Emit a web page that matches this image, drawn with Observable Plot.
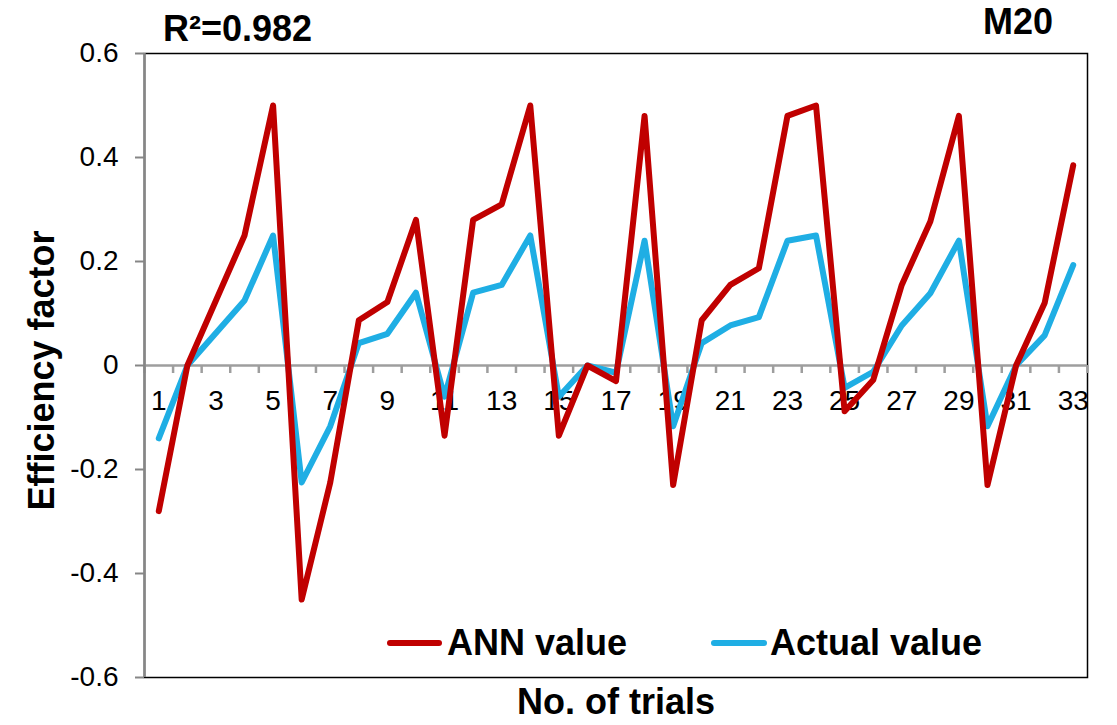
<!DOCTYPE html>
<html>
<head>
<meta charset="utf-8">
<script src="https://cdn.jsdelivr.net/npm/d3@7"></script>
<script src="https://cdn.jsdelivr.net/npm/@observablehq/plot@0.6"></script>
<style>
  body { margin: 0; background: #fff; font-family: "Liberation Sans", Arial, sans-serif; }
  #wrap { position: relative; width: 1117px; height: 725px; }
  .lbl { position: absolute; font-weight: bold; font-size: 36px; color: #000; line-height: 1; white-space: nowrap; }
  .sw { position: absolute; height: 6px; border-radius: 3px; }
</style>
</head>
<body>
<div id="wrap"></div>
<script>
// ---- data ----
const trials = [1,2,3,4,5,6,7,8,9,10,11,12,13,14,15,16,17,18,19,20,21,22,23,24,25,26,27,28,29,30,31,32,33];
const annValues = [-0.28, 0, 0.125, 0.25, 0.5, -0.45, -0.225, 0.087, 0.122, 0.28, -0.135, 0.28, 0.31, 0.5,
  -0.135, 0, -0.03, 0.48, -0.23, 0.087, 0.155, 0.187, 0.48, 0.5, -0.088, -0.028, 0.155, 0.277, 0.48,
  -0.23, 0, 0.12, 0.385];
const actualValues = [-0.14, 0, 0.0625, 0.125, 0.25, -0.225, -0.117, 0.043, 0.061, 0.14, -0.06, 0.14, 0.155, 0.25,
  -0.06, 0, -0.014, 0.24, -0.117, 0.043, 0.077, 0.093, 0.24, 0.25, -0.043, -0.012, 0.077, 0.139, 0.24,
  -0.117, 0, 0.058, 0.193];
const seriesNames = ["ANN value", "Actual value"];
const seriesColors = ["#C00000", "#1FAEE4"];
const yTicks = [-0.6, -0.4, -0.2, 0, 0.2, 0.4, 0.6];
const yTickLabels = ["-0.6", "-0.4", "-0.2", "0", "0.2", "0.4", "0.6"];
const xTickLabels = ["1","3","5","7","9","11","13","15","17","19","21","23","25","27","29","31","33"];
const rSquaredText = "R²=0.982";
const panelText = "M20";
const xTitle = "No. of trials";
const yTitle = "Efficiency factor";

// ---- layout ----
const W = 1117, H = 725, mL = 144, mR = 30, mT = 53, mB = 48;
const pxPerUnit = (H - mT - mB) / (yTicks[yTicks.length - 1] - yTicks[0]);
const tickLen = 8 / pxPerUnit;
const bounds = [0, ...trials].map(t => t + 0.5);

const rows = [
  ...trials.map((t, i) => ({trial: t, value: actualValues[i], series: seriesNames[1]})),
  ...trials.map((t, i) => ({trial: t, value: annValues[i], series: seriesNames[0]}))
];

const chart = Plot.plot({
  width: W, height: H,
  marginLeft: mL, marginRight: mR, marginTop: mT, marginBottom: mB,
  style: {fontFamily: "'Liberation Sans', Arial, sans-serif", background: "white", color: "black"},
  x: {domain: [0.5, trials.length + 0.5], axis: null},
  y: {domain: [yTicks[0], yTicks[yTicks.length - 1]], axis: null},
  color: {domain: seriesNames, range: seriesColors},
  marks: [
    Plot.frame({stroke: "#000", strokeWidth: 1.5}),
    Plot.ruleY([0], {stroke: "#9e9e9e", strokeWidth: 2.5}),
    Plot.ruleX(bounds, {x: d => d, y1: 0, y2: -tickLen, stroke: "#9e9e9e", strokeWidth: 2.5}),
    Plot.text(xTickLabels, {x: d => +d, y: 0, dy: 36, text: d => d, fontSize: 28, fill: "black"}),
    Plot.ruleX([0.5], {stroke: "#868686", strokeWidth: 2.5}),
    Plot.axisY({ticks: yTicks, tickSize: 9, tickPadding: 17, fontSize: 28, stroke: "#868686", strokeWidth: 2,
      tickFormat: d => yTickLabels[yTicks.findIndex(v => Math.abs(v - d) < 1e-9)], label: null}),
    Plot.line(rows, {x: "trial", y: "value", z: "series", stroke: "series", strokeWidth: 6,
      strokeLinejoin: "round", strokeLinecap: "round"}),
    Plot.text([yTitle], {frameAnchor: "left", dx: -102, dy: 5, rotate: -90, text: d => d,
      textAnchor: "middle", lineAnchor: "middle",
      fontSize: 36, fontWeight: "bold", fill: "black"}),
    Plot.text([xTitle], {frameAnchor: "bottom", dy: 25, text: d => d,
      textAnchor: "middle", lineAnchor: "middle",
      fontSize: 36, fontWeight: "bold", fill: "black"})
  ]
});

const wrap = document.getElementById("wrap");
wrap.appendChild(chart);

function addLabel(text, left, top) {
  const d = document.createElement("div");
  d.className = "lbl";
  d.textContent = text;
  d.style.left = left + "px";
  d.style.top = top + "px";
  wrap.appendChild(d);
}
function addSwatch(color, left, width, top) {
  const s = document.createElement("div");
  s.className = "sw";
  s.style.background = color;
  s.style.left = left + "px";
  s.style.width = width + "px";
  s.style.top = top + "px";
  wrap.appendChild(s);
}
addLabel(rSquaredText, 163, 11);
addLabel(panelText, 983, 4);
addSwatch(seriesColors[0], 387, 55, 640);
addLabel(seriesNames[0], 447, 625);
addSwatch(seriesColors[1], 711, 56, 640);
addLabel(seriesNames[1], 770, 625);
</script>
</body>
</html>
